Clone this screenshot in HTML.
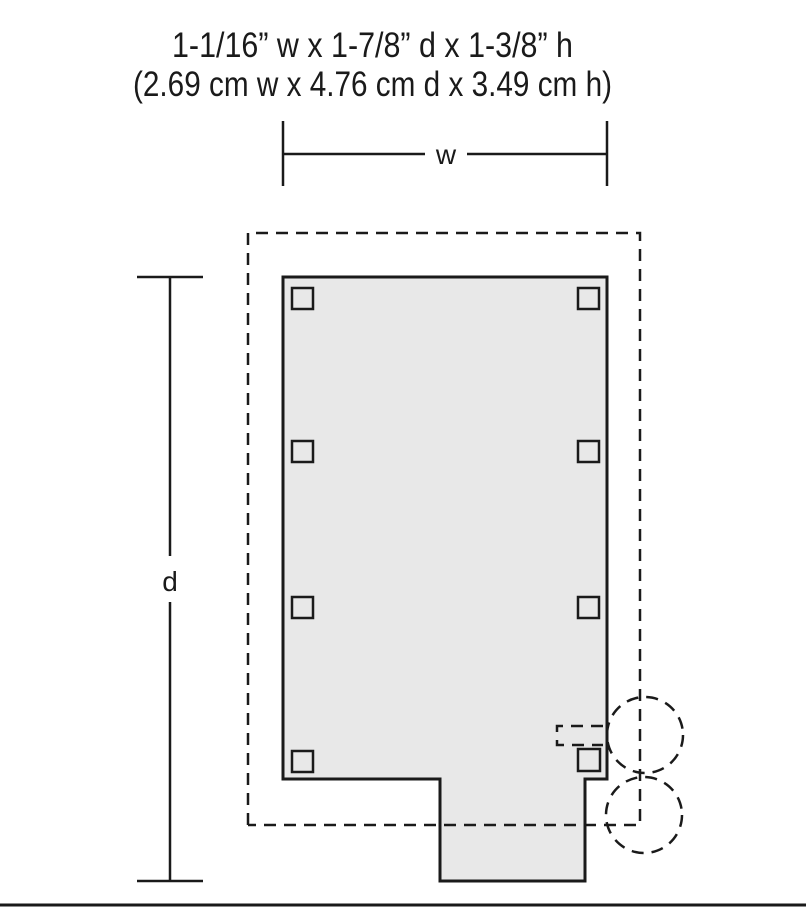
<!DOCTYPE html>
<html><head><meta charset="utf-8"><style>
html,body{margin:0;padding:0;background:#fff;width:806px;height:908px;overflow:hidden}
</style></head><body>
<svg width="806" height="908" viewBox="0 0 806 908" xmlns="http://www.w3.org/2000/svg" font-family="Liberation Sans, sans-serif" fill="none" stroke="#1a1a1a">
<g fill="#1a1a1a" stroke="none" font-size="35">
<text x="172" y="57" textLength="401" lengthAdjust="spacingAndGlyphs">1-1/16” w x 1-7/8” d x 1-3/8” h</text>
<text x="133" y="96" textLength="479" lengthAdjust="spacingAndGlyphs">(2.69 cm w x 4.76 cm d x 3.49 cm h)</text>
<text x="446" y="164" text-anchor="middle" font-size="28">w</text>
<text x="170" y="591" text-anchor="middle" font-size="28">d</text>
</g>
<g stroke-width="2.5">
<line x1="283" y1="121" x2="283" y2="186"/>
<line x1="607" y1="121" x2="607" y2="186"/>
<line x1="283" y1="154" x2="425" y2="154"/>
<line x1="467" y1="154" x2="607" y2="154"/>
<line x1="137" y1="277" x2="203" y2="277"/>
<line x1="137" y1="881" x2="203" y2="881"/>
<line x1="170" y1="277" x2="170" y2="556"/>
<line x1="170" y1="602" x2="170" y2="881"/>
</g>
<line x1="0" y1="905" x2="806" y2="905" stroke-width="3"/>
<polygon points="283,277 607,277 607,779 585,779 585,881 440,881 440,779 283,779" fill="#e8e8e8" stroke-width="3"/>
<g stroke-width="2.5" fill="none">
<rect x="292" y="288" width="21" height="21"/>
<rect x="578" y="288" width="21" height="21"/>
<rect x="292" y="441" width="21" height="21"/>
<rect x="578" y="441" width="21" height="21"/>
<rect x="292" y="597" width="21" height="21"/>
<rect x="578" y="597" width="21" height="21"/>
<rect x="292" y="751" width="21" height="21"/>
<rect x="578" y="749" width="22" height="22"/>
</g>
<g stroke-width="2.5" stroke-dasharray="12,8" fill="none">
<polyline points="248,825 248,233 640,233 640,825 248,825"/>
<polyline points="603,726 557,726 557,745 603,745"/>
<circle cx="645" cy="735" r="38"/>
<circle cx="644" cy="815" r="38"/>
</g>
</svg>
</body></html>
